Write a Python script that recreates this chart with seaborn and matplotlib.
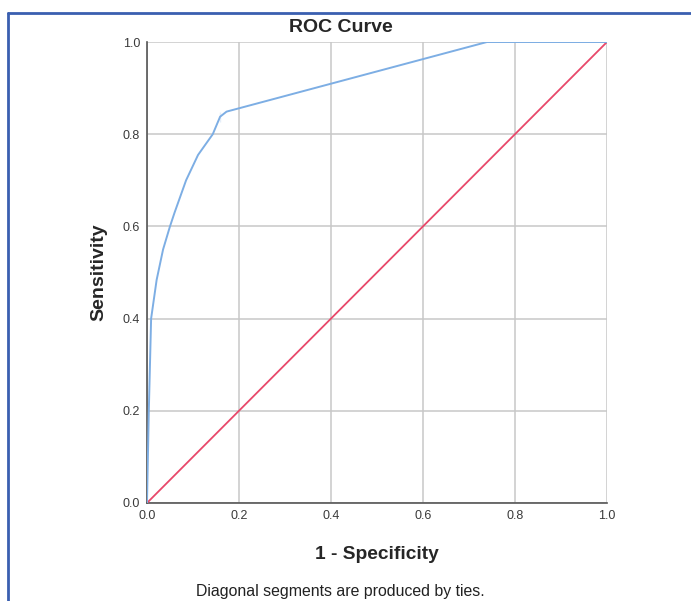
import matplotlib
matplotlib.use("Agg")
import matplotlib.pyplot as plt
import seaborn as sns
import pandas as pd
from matplotlib.lines import Line2D

# ROC points
fpr = [0.0, 0.004, 0.009, 0.021, 0.035, 0.050, 0.060, 0.085, 0.111, 0.143, 0.159, 0.159, 0.173, 0.739, 1.0]
tpr = [0.0, 0.200, 0.400, 0.484, 0.550, 0.600, 0.630, 0.700, 0.755, 0.800, 0.827, 0.849, 0.849, 1.0, 1.0]
ref_x = [0.0, 1.0]
ref_y = [0.0, 1.0]
ticks = [0.0, 0.2, 0.4, 0.6, 0.8, 1.0]

sns.set_style("white")
plt.rcParams["font.family"] = ["Liberation Sans", "DejaVu Sans"]

fig = plt.figure(figsize=(6.91, 6.01), dpi=100)
ax = fig.add_axes([0.2127, 0.1631, 0.6657, 0.7670])

roc = pd.DataFrame({"fpr": fpr, "tpr": tpr})
ref = pd.DataFrame({"x": ref_x, "y": ref_y})
sns.lineplot(data=ref, x="x", y="y", ax=ax, color="#E8486A", linewidth=1.3, zorder=3)
sns.lineplot(data=roc, x="fpr", y="tpr", ax=ax, sort=False, color="#7DAEE4",
             linewidth=1.4, zorder=4)

ax.set_xlim(0, 1)
ax.set_ylim(0, 1)
ax.set_xticks(ticks)
ax.set_yticks(ticks)
ax.set_xticklabels([f"{t:.1f}" for t in ticks])
ax.set_yticklabels([f"{t:.1f}" for t in ticks])
ax.tick_params(length=0, labelsize=9, colors="#3A3A3A")
ax.tick_params(axis="x", pad=5)
ax.tick_params(axis="y", pad=5)
ax.grid(True, color="#C8C8C8", linewidth=1.1)
ax.set_axisbelow(True)
for side in ["top", "right"]:
    ax.spines[side].set_visible(False)
for side in ["left", "bottom"]:
    ax.spines[side].set_color("#555555")
    ax.spines[side].set_linewidth(1.2)

ax.set_xlabel("1 - Specificity", fontsize=13.8, fontweight="bold", labelpad=17)
ax.set_ylabel("Sensitivity", fontsize=14, fontweight="bold", labelpad=11)

fig.text(0.493, 0.955, "ROC Curve", ha="center", va="center", fontsize=14, fontweight="bold")
fig.text(0.493, 0.015, "Diagonal segments are produced by ties.", ha="center", va="center",
         fontsize=11.4, color="#222222")

# blue frame around the output
fig.add_artist(Line2D([0.011, 0.011], [0.0, 0.978], transform=fig.transFigure,
                      color="#3A5FB0", linewidth=2))
fig.add_artist(Line2D([0.011, 1.0], [0.978, 0.978], transform=fig.transFigure,
                      color="#3A5FB0", linewidth=2))

fig.savefig("out.png", dpi=100)
